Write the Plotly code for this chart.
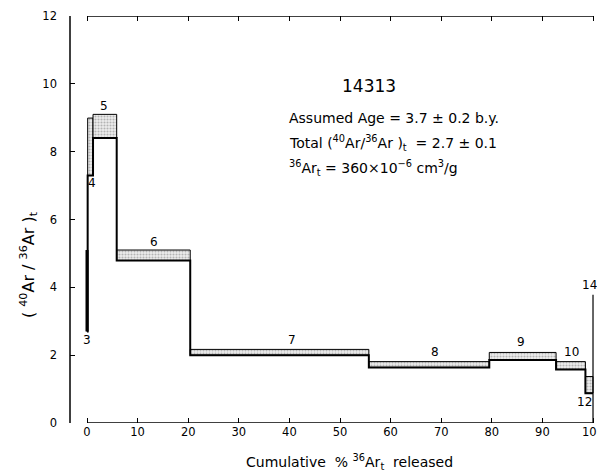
import plotly.graph_objects as go

# step boundaries (cumulative % 36Ar released)
x_edges = [0, 0.13, 1.19, 5.87, 20.4, 55.7, 79.5, 92.7, 98.5, 100]
low_vals = [2.7, 7.3, 8.4, 4.79, 2.0, 1.64, 1.86, 1.58, 0.88]
high_vals = [5.1, 8.99, 9.1, 5.10, 2.17, 1.81, 2.08, 1.81, 1.37]
step_names = ["3", "4", "5", "6", "7", "8", "9", "10", "12"]
step14_x = 100
step14_val = 3.78

x_ticks = [0, 10, 20, 30, 40, 50, 60, 70, 80, 90, 100]
y_ticks = [0, 2, 4, 6, 8, 10, 12]

FONT = "DejaVu Sans"
fig = go.Figure()

# stippled boxes
for i in range(len(low_vals)):
    x0, x1 = x_edges[i], x_edges[i + 1]
    lo, hi = low_vals[i], high_vals[i]
    fig.add_trace(go.Scatter(
        x=[x0, x1, x1, x0, x0], y=[lo, lo, hi, hi, lo],
        mode="lines", fill="toself",
        fillpattern=dict(shape=".", fgcolor="#7a7a7a", bgcolor="#eeeeee", size=3, solidity=0.4),
        line=dict(color="black", width=1),
        hoverinfo="skip", showlegend=False))

# main step line along lower values
sx, sy = [], []
for i in range(len(low_vals)):
    sx += [x_edges[i], x_edges[i + 1]]
    sy += [low_vals[i], low_vals[i]]
fig.add_trace(go.Scatter(x=sx, y=sy, mode="lines",
                         line=dict(color="black", width=2),
                         hoverinfo="skip", showlegend=False))
# step 3 thick
fig.add_trace(go.Scatter(x=[x_edges[0], x_edges[0]], y=[low_vals[0], high_vals[0]],
                         mode="lines", line=dict(color="black", width=3),
                         hoverinfo="skip", showlegend=False))
# step 14 vertical line
fig.add_trace(go.Scatter(x=[step14_x, step14_x], y=[0, step14_val], mode="lines",
                         line=dict(color="black", width=1.2),
                         hoverinfo="skip", showlegend=False))

# axis lines
fig.add_shape(type="line", x0=0, x1=100, y0=0, y1=0, xref="x", yref="y",
              line=dict(color="black", width=1.5))
fig.add_shape(type="line", x0=0, x1=100, y0=12, y1=12, xref="x", yref="y",
              line=dict(color="black", width=1.5))
fig.add_shape(type="line", x0=0, x1=0, y0=0, y1=1, xref="paper", yref="paper",
              line=dict(color="black", width=1.5))

# step labels
label_pos = {"3": (-0.1, 2.45), "4": (1.0, 7.08), "5": (3.4, 9.35), "6": (13.2, 5.35),
             "7": (40.5, 2.45), "8": (68.8, 2.08), "9": (85.7, 2.40), "10": (95.8, 2.08),
             "12": (98.3, 0.62)}
for name in step_names:
    lx, ly = label_pos[name]
    fig.add_annotation(x=lx, y=ly, text=name, showarrow=False,
                       xanchor="center", yanchor="middle",
                       font=dict(family=FONT, size=12, color="black"))
fig.add_annotation(x=99.4, y=4.07, text="14", showarrow=False,
                   xanchor="center", yanchor="middle",
                   font=dict(family=FONT, size=12, color="black"))

# info text
fig.add_annotation(x=0.559, y=0.828, xref="paper", yref="paper", text="14313",
                   xanchor="center", yanchor="middle",
                   showarrow=False, font=dict(family=FONT, size=17, color="black"))
info_lines = [
    "Assumed Age = 3.7 ± 0.2 b.y.",
    "Total (<sup>40</sup>Ar/<sup>36</sup>Ar )<sub>t</sub>  = 2.7 ± 0.1",
    "<sup>36</sup>Ar<sub>t</sub> = 360×10<sup>−6</sup> cm<sup>3</sup>/g",
]
info_y = [0.749, 0.688, 0.6265]
for t, yy in zip(info_lines, info_y):
    fig.add_annotation(x=0.405, y=yy, xref="paper", yref="paper", text=t,
                       xanchor="left", yanchor="middle", showarrow=False,
                       font=dict(family=FONT, size=14, color="black"))

# axis titles
fig.add_annotation(x=0.5215, y=-0.0958, xref="paper", yref="paper",
                   text="Cumulative  % <sup>36</sup>Ar<sub>t</sub>  released",
                   xanchor="center", yanchor="middle",
                   showarrow=False, font=dict(family=FONT, size=14, color="black"))
fig.add_annotation(x=-0.0785, y=0.388, xref="paper", yref="paper",
                   text="( <sup>40</sup>Ar / <sup>36</sup>Ar )<sub>t</sub>", textangle=-90,
                   xanchor="center", yanchor="middle",
                   showarrow=False, font=dict(family=FONT, size=16, color="black"))

# page body has an 8px margin, so the figure is sized to fit the 605x472 window
fig.update_layout(
    width=597, height=464,
    margin=dict(l=62, r=0, t=8, b=49, autoexpand=False),
    paper_bgcolor="white", plot_bgcolor="white",
    xaxis=dict(range=[-3.36, 102.37], tickvals=x_ticks, ticks="inside", ticklen=5,
               tickcolor="black", tickwidth=1.2, mirror="ticks", showline=False,
               showgrid=False, zeroline=False, automargin=False,
               tickfont=dict(family=FONT, size=11.5, color="black")),
    yaxis=dict(range=[0, 12], tickvals=y_ticks, ticks="inside", ticklen=5,
               tickcolor="black", tickwidth=1.2, mirror="ticks", showline=False,
               showgrid=False, zeroline=False, ticklabelstandoff=12, automargin=False,
               tickfont=dict(family=FONT, size=11.5, color="black")),
)

fig.write_html("out.html")
